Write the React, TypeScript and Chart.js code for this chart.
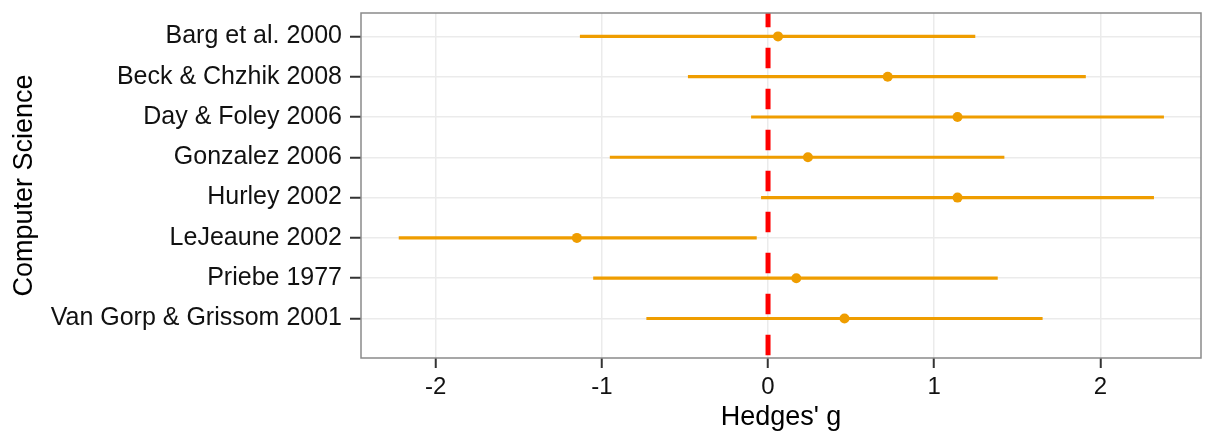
import React, { useEffect, useRef } from "react";
import { Chart, registerables } from "chart.js";

Chart.register(...registerables);

const studies = [
  "Barg et al. 2000",
  "Beck & Chzhik 2008",
  "Day & Foley 2006",
  "Gonzalez 2006",
  "Hurley 2002",
  "LeJeaune 2002",
  "Priebe 1977",
  "Van Gorp & Grissom 2001",
];
const hedgesG = [0.06, 0.72, 1.14, 0.24, 1.14, -1.15, 0.17, 0.46];
const ciLower = [-1.13, -0.48, -0.1, -0.95, -0.04, -2.22, -1.05, -0.73];
const ciUpper = [1.245, 1.91, 2.38, 1.42, 2.32, -0.07, 1.38, 1.65];
const xTicks = [-2, -1, 0, 1, 2];
const referenceValue = 0;
const yAxisTitle = "Computer Science";
const xAxisTitle = "Hedges' g";

const X_MIN = -2.449;
const X_MAX = 2.605;
const Y_MIN = 0.42;
const Y_MAX = 8.98;

const ORANGE = "#EF9D00";
const FONT = "'Liberation Sans', Arial, Helvetica, sans-serif";

const panelBorder = {
  id: "panelBorder",
  afterDatasetsDraw(chart: any) {
    const { ctx, chartArea } = chart;
    ctx.save();
    ctx.strokeStyle = "#8a8a8a";
    ctx.lineWidth = 1.5;
    ctx.strokeRect(chartArea.left, chartArea.top, chartArea.right - chartArea.left, chartArea.bottom - chartArea.top);
    ctx.restore();
  },
};

export default function App() {
  const canvasRef = useRef<HTMLCanvasElement | null>(null);

  useEffect(() => {
    document.body.style.margin = "0";
    const canvas = canvasRef.current;
    if (!canvas) return;
    Chart.defaults.font.family = FONT;

    const chart = new Chart(canvas, {
      type: "scatter",
      data: {
        datasets: [
          {
            type: "bar",
            indexAxis: "y",
            data: studies.map((_, i) => ({ y: i + 1, x: [ciLower[i], ciUpper[i]] })),
            backgroundColor: ORANGE,
            borderWidth: 0,
            barThickness: 2.5,
            order: 3,
          } as any,
          {
            type: "scatter",
            data: studies.map((_, i) => ({ x: hedgesG[i], y: i + 1 })),
            backgroundColor: ORANGE,
            borderColor: ORANGE,
            pointRadius: 5,
            pointBorderWidth: 0,
            order: 2,
          } as any,
          {
            type: "line",
            data: [
              { x: referenceValue, y: Y_MIN },
              { x: referenceValue, y: Y_MAX },
            ],
            borderColor: "#FF0000",
            borderWidth: 5,
            borderDash: [20.5, 20.5],
            borderDashOffset: 6.3,
            borderCapStyle: "butt",
            pointRadius: 0,
            fill: false,
            order: 1,
          } as any,
        ],
      },
      options: {
        animation: false,
        responsive: true,
        maintainAspectRatio: false,
        layout: { padding: { top: 13, right: 6, left: 0, bottom: 0 } },
        plugins: {
          legend: { display: false },
          tooltip: { enabled: false },
        },
        scales: {
          x: {
            type: "linear",
            min: X_MIN,
            max: X_MAX,
            offset: false,
            afterBuildTicks: (scale: any) => {
              scale.ticks = xTicks.map((v) => ({ value: v }));
            },
            afterFit: (scale: any) => {
              scale.height = 79;
              scale.paddingLeft = 0;
              scale.paddingRight = 0;
            },
            grid: {
              color: "#EBEBEB",
              lineWidth: 1.5,
              drawTicks: true,
              tickLength: 10,
              tickColor: "#333333",
              tickWidth: 2,
              offset: false,
            },
            border: { display: false },
            ticks: {
              color: "#111111",
              font: { size: 24, family: FONT },
              padding: 5,
              callback: (v: any) => String(v),
            },
            title: {
              display: true,
              text: xAxisTitle,
              color: "#000000",
              font: { size: 27, family: FONT, lineHeight: 1.2 },
              padding: { top: 0, bottom: 3 },
            },
          },
          y: {
            type: "linear",
            min: Y_MIN,
            max: Y_MAX,
            reverse: true,
            offset: false,
            afterBuildTicks: (scale: any) => {
              scale.ticks = studies.map((_, i) => ({ value: i + 1 }));
            },
            afterFit: (scale: any) => {
              scale.width = 361;
              scale.paddingTop = 0;
              scale.paddingBottom = 0;
            },
            grid: {
              color: "#EBEBEB",
              lineWidth: 1.5,
              drawTicks: true,
              tickLength: 11,
              tickColor: "#333333",
              tickWidth: 2,
              offset: false,
            },
            border: { display: false },
            ticks: {
              color: "#111111",
              font: { size: 25, family: FONT },
              padding: 8,
              autoSkip: false,
              callback: (v: any) => studies[Math.round(v) - 1] ?? "",
            },
            title: {
              display: true,
              text: yAxisTitle,
              color: "#000000",
              font: { size: 27, family: FONT, lineHeight: 1.2 },
              padding: { top: 8, bottom: 0 },
            },
          },
        },
      } as any,
      plugins: [panelBorder],
    });

    return () => chart.destroy();
  }, []);

  return (
    <div style={{ width: 1207, height: 437, position: "relative" }}>
      <canvas ref={canvasRef} />
    </div>
  );
}
